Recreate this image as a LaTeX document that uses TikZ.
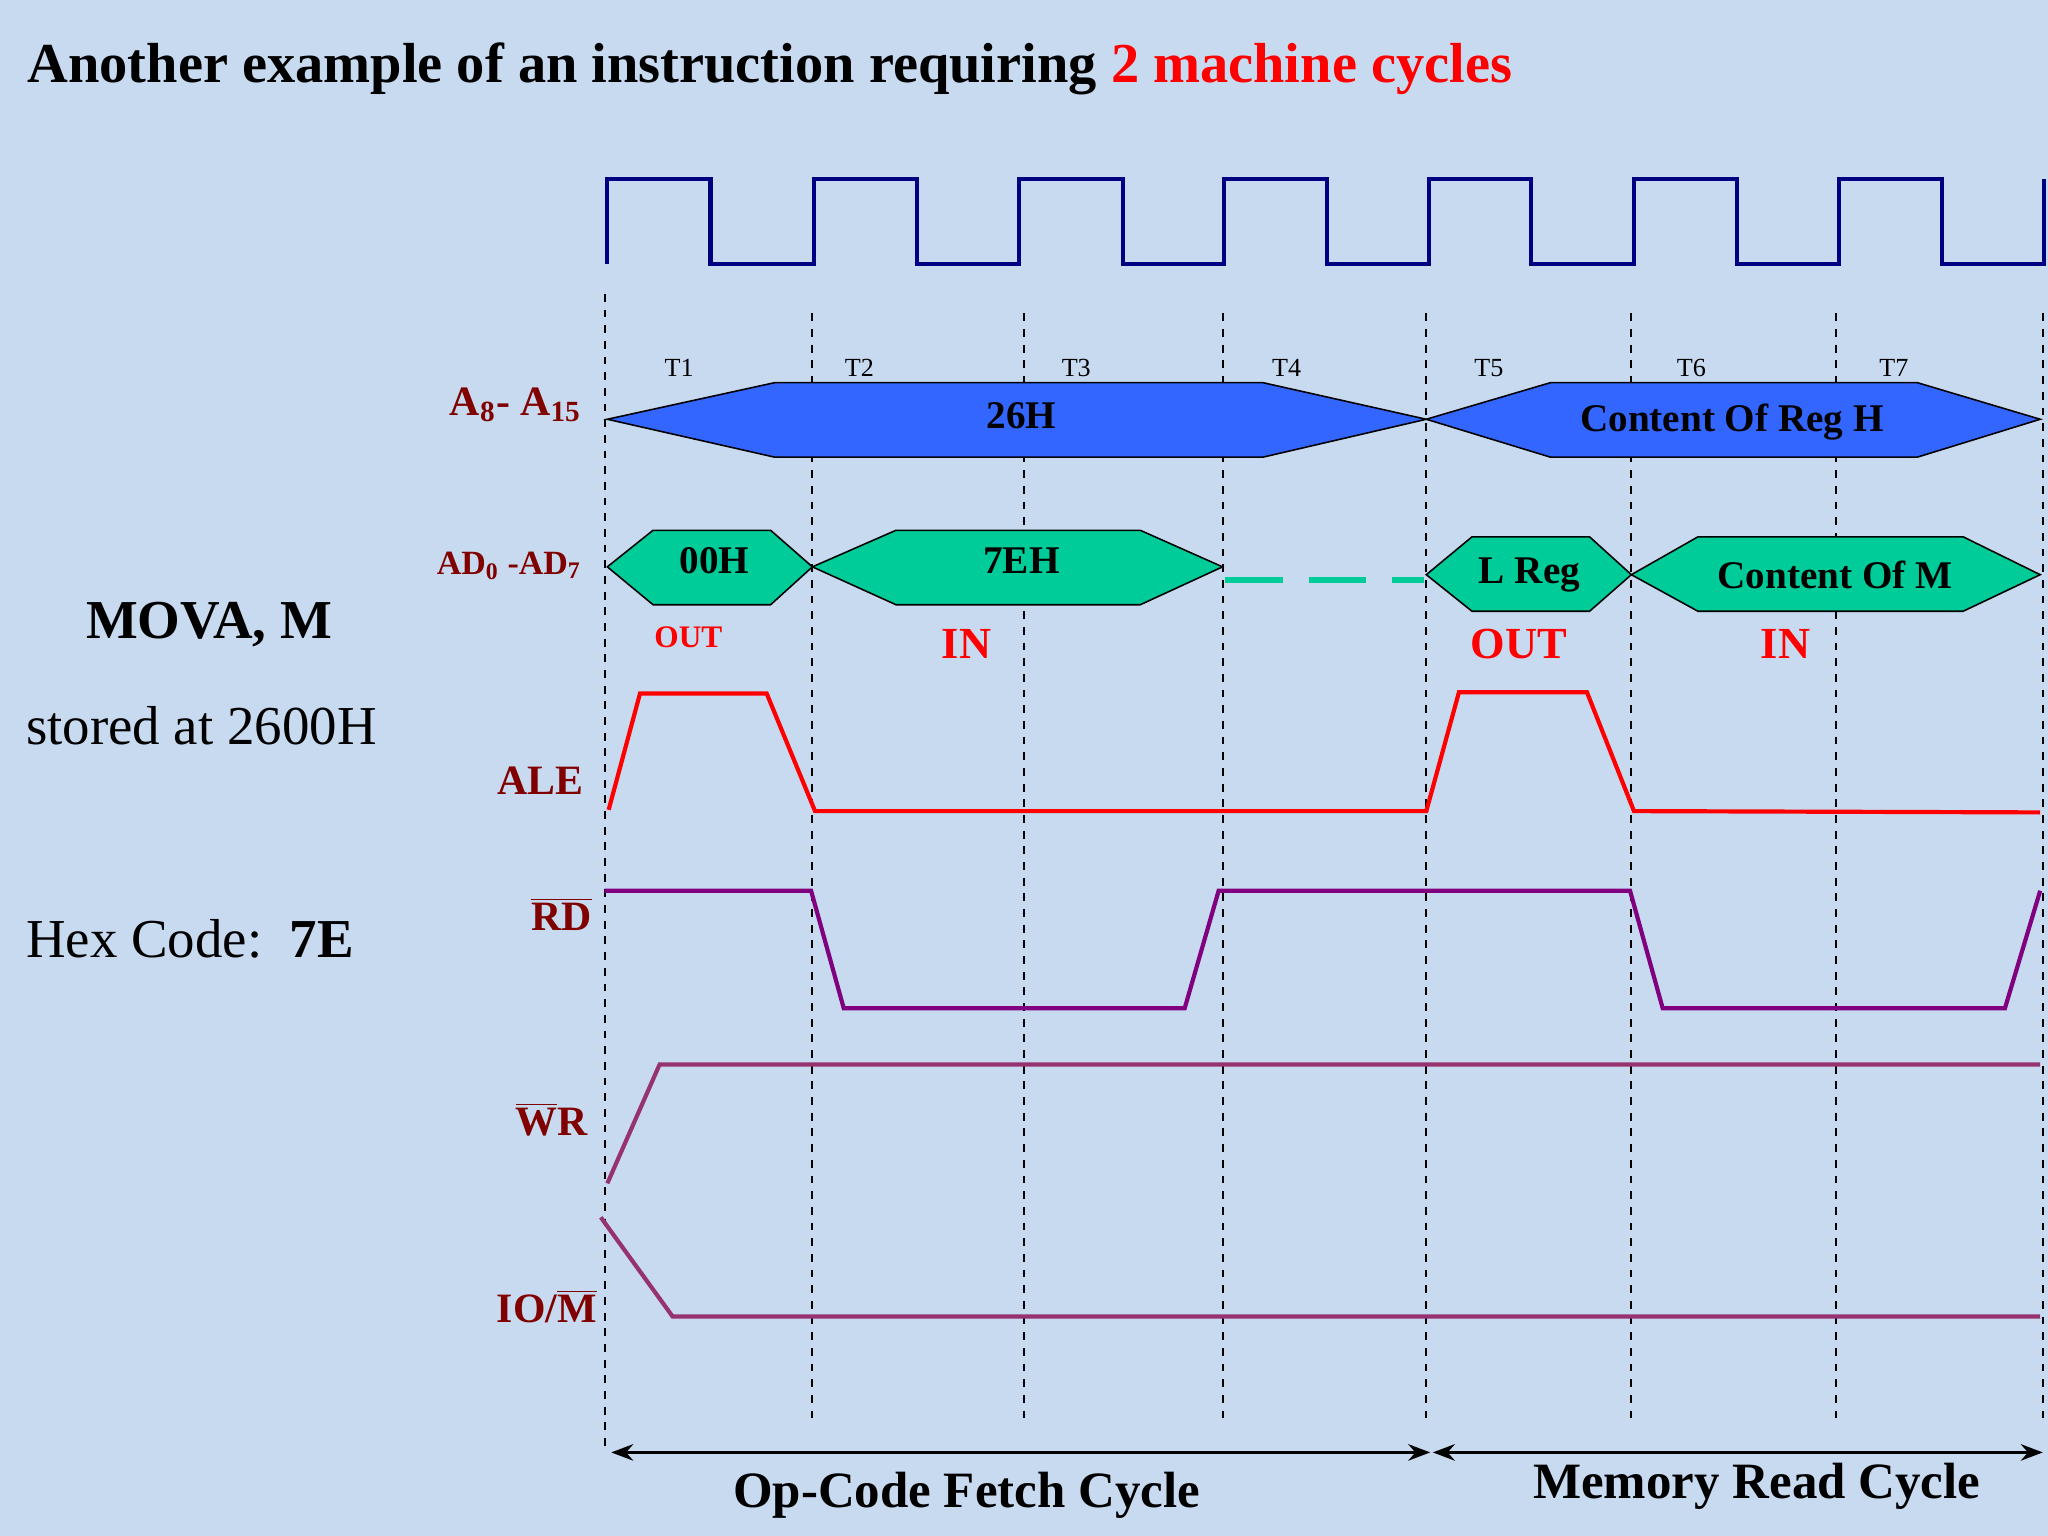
\documentclass[tikz,border=0pt]{standalone}
\usepackage{fontspec}
\setmainfont{Liberation Serif}
\usetikzlibrary{arrows.meta}
\definecolor{bg}{RGB}{200,218,240}
\definecolor{clk}{RGB}{0,0,128}
\definecolor{dred}{RGB}{128,0,0}
\definecolor{busb}{RGB}{51,102,255}
\definecolor{busg}{RGB}{0,204,153}
\definecolor{pur}{RGB}{128,0,128}
\definecolor{mag}{RGB}{150,50,110}
\tikzset{
 sig/.style={line width=1.6pt},
 grid/.style={dashed,line width=0.8pt},
 bus/.style={draw=black,line width=0.6pt},
 lab/.style={text=dred,font=\bfseries\fontsize{16}{18}\selectfont,anchor=east},
 tl/.style={font=\fontsize{10}{12}\selectfont},
 bt/.style={font=\bfseries\fontsize{15}{17}\selectfont},
}
\begin{document}
\begin{tikzpicture}[x=0.5pt,y=-0.5pt]
\fill[bg] (0,0) rectangle (1568,1176);
\useasboundingbox (0,0) rectangle (1568,1176);
\node[anchor=west,font=\bfseries\fontsize{21.6}{24}\selectfont] (title) at (14,53) {Another example of an instruction requiring \textcolor{red}{2 machine cycles}};
% clock
\draw[sig,clk] (465,202) -- (465,137) -- (544,137) -- (544,202) -- (623,202) -- (623,137) -- (702,137) -- (702,202) -- (780,202) -- (780,137) -- (860,137) -- (860,202) -- (937,202) -- (937,137) -- (1016,137) -- (1016,202) -- (1094,202) -- (1094,137) -- (1172,137) -- (1172,202) -- (1251,202) -- (1251,137) -- (1330,137) -- (1330,202) -- (1408,202) -- (1408,137) -- (1487,137) -- (1487,202) -- (1565,202) -- (1565,137);
% grid
\draw[grid] (463,225) -- (463,1112);
\foreach \x in {622,784,936,1092,1249,1406,1564} \draw[grid] (\x,240) -- (\x,1090);
% T labels
\foreach \x/\t in {520/T1,658/T2,824/T3,985/T4,1140/T5,1295/T6,1450/T7} \node[tl] (n\t) at (\x,282) {\t};
% A bus
\filldraw[bus,fill=busb] (465,321) -- (593,293) -- (967,293) -- (1092,321) -- (967,350) -- (593,350) -- cycle;
\filldraw[bus,fill=busb] (1092,321) -- (1187,293) -- (1468,293) -- (1562,321) -- (1468,350) -- (1187,350) -- cycle;
\node[bt] (a1) at (782,318) {26H};
\node[bt] (a2) at (1326,323) {Content Of Reg H};
\node[lab] (la) at (452,310) {A\textsubscript{8}- A\textsubscript{15}};
% AD bus
\filldraw[bus,fill=busg] (465,434) -- (500,406) -- (590,406) -- (622,434) -- (590,463) -- (500,463) -- cycle;
\filldraw[bus,fill=busg] (622,434) -- (686,406) -- (873,406) -- (936,434) -- (873,463) -- (686,463) -- cycle;
\filldraw[bus,fill=busg] (1092,440) -- (1127,411) -- (1217,411) -- (1249,440) -- (1217,468) -- (1127,468) -- cycle;
\filldraw[bus,fill=busg] (1249,440) -- (1300,411) -- (1503,411) -- (1562,440) -- (1503,468) -- (1300,468) -- cycle;
\draw[busg,line width=2pt,dash pattern=on 22pt off 10pt] (938,444) -- (1090,444);
\node[bt] (d1) at (547,429) {00H};
\node[bt] (d2) at (782,429) {7EH};
\node[bt] (d3) at (1171,440) {L Reg};
\node[bt] (d4) at (1405,440) {Content Of M};
\node[lab,font=\bfseries\fontsize{13}{15}\selectfont] (lad) at (452,433) {AD\textsubscript{0} -AD\textsubscript{7}};
\node[text=red,font=\bfseries\fontsize{12}{14}\selectfont] (o1) at (527,488) {OUT};
\node[text=red,font=\bfseries\fontsize{17}{19}\selectfont] (i1) at (740,493) {IN};
\node[text=red,font=\bfseries\fontsize{17}{19}\selectfont] (o2) at (1163,493) {OUT};
\node[text=red,font=\bfseries\fontsize{17}{19}\selectfont] (i2) at (1367,493) {IN};
% left text
\node[font=\bfseries\fontsize{21}{24}\selectfont] (mov) at (160,478) {MOVA, M};
\node[font=\fontsize{21}{24}\selectfont,anchor=west] (st) at (13,556) {stored at 2600H};
\node[font=\fontsize{21}{24}\selectfont,anchor=west] (hx) at (13,719) {Hex Code:\ \ \textbf{7E}};
% ALE
\draw[sig,red] (466,620) -- (490,531) -- (587,531) -- (624,621) -- (1092,621) -- (1117,530) -- (1215,530) -- (1251,621) -- (1562,622);
\node[lab] (lale) at (454,598) {ALE};
% RD
\draw[sig,pur] (463,682) -- (621,682) -- (646,772) -- (907,772) -- (933,682) -- (1248,682) -- (1273,772) -- (1535,772) -- (1562,682);
\node[lab] (lrd) at (460,700) {$\overline{\mbox{RD}}$};
% WR
\draw[sig,mag] (465,906) -- (505,815) -- (1562,815);
\node[lab] (lwr) at (457,857) {$\overline{\mbox{W}}$R};
% IO/M
\draw[sig,mag] (460,932) -- (515,1008) -- (1562,1008);
\node[lab] (lio) at (464,1000) {IO/$\overline{\mbox{M}}$};
% bottom arrows
\coordinate (b0) at (468,1112); \coordinate (b1) at (1095,1112);
\coordinate (b2) at (1097,1112); \coordinate (b3) at (1564,1112);
\draw[line width=1.2pt,{Stealth}-{Stealth}] (b0) -- (b1);
\draw[line width=1.2pt,{Stealth}-{Stealth}] (b2) -- (b3);
\node[font=\bfseries\fontsize{19.5}{22}\selectfont] (c1) at (740,1145) {Op-Code Fetch Cycle};
\node[font=\bfseries\fontsize{19.5}{22}\selectfont] (c2) at (1345,1138) {Memory Read Cycle};
\end{tikzpicture}
\end{document}
